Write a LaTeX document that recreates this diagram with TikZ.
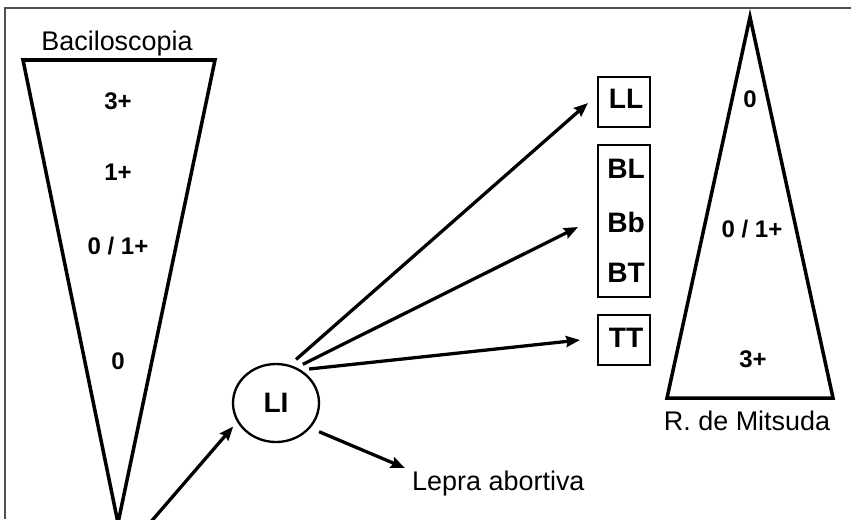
\documentclass[tikz,border=0pt]{standalone}
\usepackage{fontspec}
\setmainfont{Liberation Sans}
\usepackage{tikz}
\usetikzlibrary{shapes.geometric, arrows.meta, positioning}
\definecolor{framecolor}{RGB}{80,80,80}

\begin{document}
\begin{tikzpicture}[
    x=0.03cm, y=-0.03cm,
    cone/.style={line width=3pt, line join=miter},
    caption/.style={font=\fontsize{23}{27}\selectfont, inner sep=0pt, anchor=base},
    grade/.style={font=\bfseries\fontsize{20.5}{24}\selectfont, inner sep=0pt, anchor=base},
    form/.style={font=\bfseries\fontsize{24}{28}\selectfont, inner sep=0pt, anchor=base},
    formbox/.style={draw, line width=2.3pt, minimum width=1.56cm, inner sep=0pt},
    arr/.style={-{Stealth[length=12pt, width=9.5pt, inset=1.5pt]}, line width=2.8pt}
]
    \useasboundingbox (0,0) rectangle (851,519);
    \draw[framecolor, line width=1pt] (851,8) -- (5,8) -- (5,519);

    % baciloscopia
    \draw[cone] (23,60) -- (215,60) -- (118,523) -- cycle;
    \node[caption] (bacilo) at (117,50) {Baciloscopia};
    \node[grade] (b3) at (118,109) {3+};
    \node[grade] (b1) at (118,180) {1+};
    \node[grade] (b01) at (118,254) {0 / 1+};
    \node[grade] (b0) at (118,369) {0};

    % mitsuda
    \draw[cone] (750,17) -- (833,398) -- (667,398) -- cycle;
    \node[caption] (mitsuda) at (747,430) {R. de Mitsuda};
    \node[grade] (m0) at (750,107) {0};
    \node[grade] (m01) at (752,237) {0 / 1+};
    \node[grade] (m3) at (753,367) {3+};

    % formas clinicas
    \node[formbox, minimum height=1.5cm] (llbox) at (624,102) {};
    \node[formbox, minimum height=4.56cm] (bbox) at (624,221) {};
    \node[formbox, minimum height=1.5cm] (ttbox) at (624,340) {};
    \node[form] (ll) at (626,108) {LL};
    \node[form] (bl) at (626,178) {BL};
    \node[form] (bb) at (626,232) {Bb};
    \node[form] (bt) at (626,282) {BT};
    \node[form] (tt) at (626,347) {TT};

    \node[draw, ellipse, line width=2pt, minimum width=2.58cm, minimum height=2.34cm,
          inner sep=0pt, font=\bfseries\fontsize{24}{28}\selectfont] (li) at (276,403) {LI};
    \node[caption, anchor=base west] (abortiva) at (412,490) {Lepra abortiva};

    \coordinate (start) at (149,524);
    \coordinate (toll) at (588,103);
    \coordinate (tob) at (578,227);
    \coordinate (tott) at (580,340);
    \coordinate (toab) at (405,468);

    \draw[arr, shorten >=5pt] (start) -- (li.206);
    \draw[arr, shorten <=7pt] (li.70) -- (toll);
    \draw[arr, shorten <=6pt] (li.60) -- (tob);
    \draw[arr, shorten <=7pt] (li.53) -- (tott);
    \draw[arr, shorten <=8pt] (li.-36) -- (toab);
\end{tikzpicture}
\end{document}
